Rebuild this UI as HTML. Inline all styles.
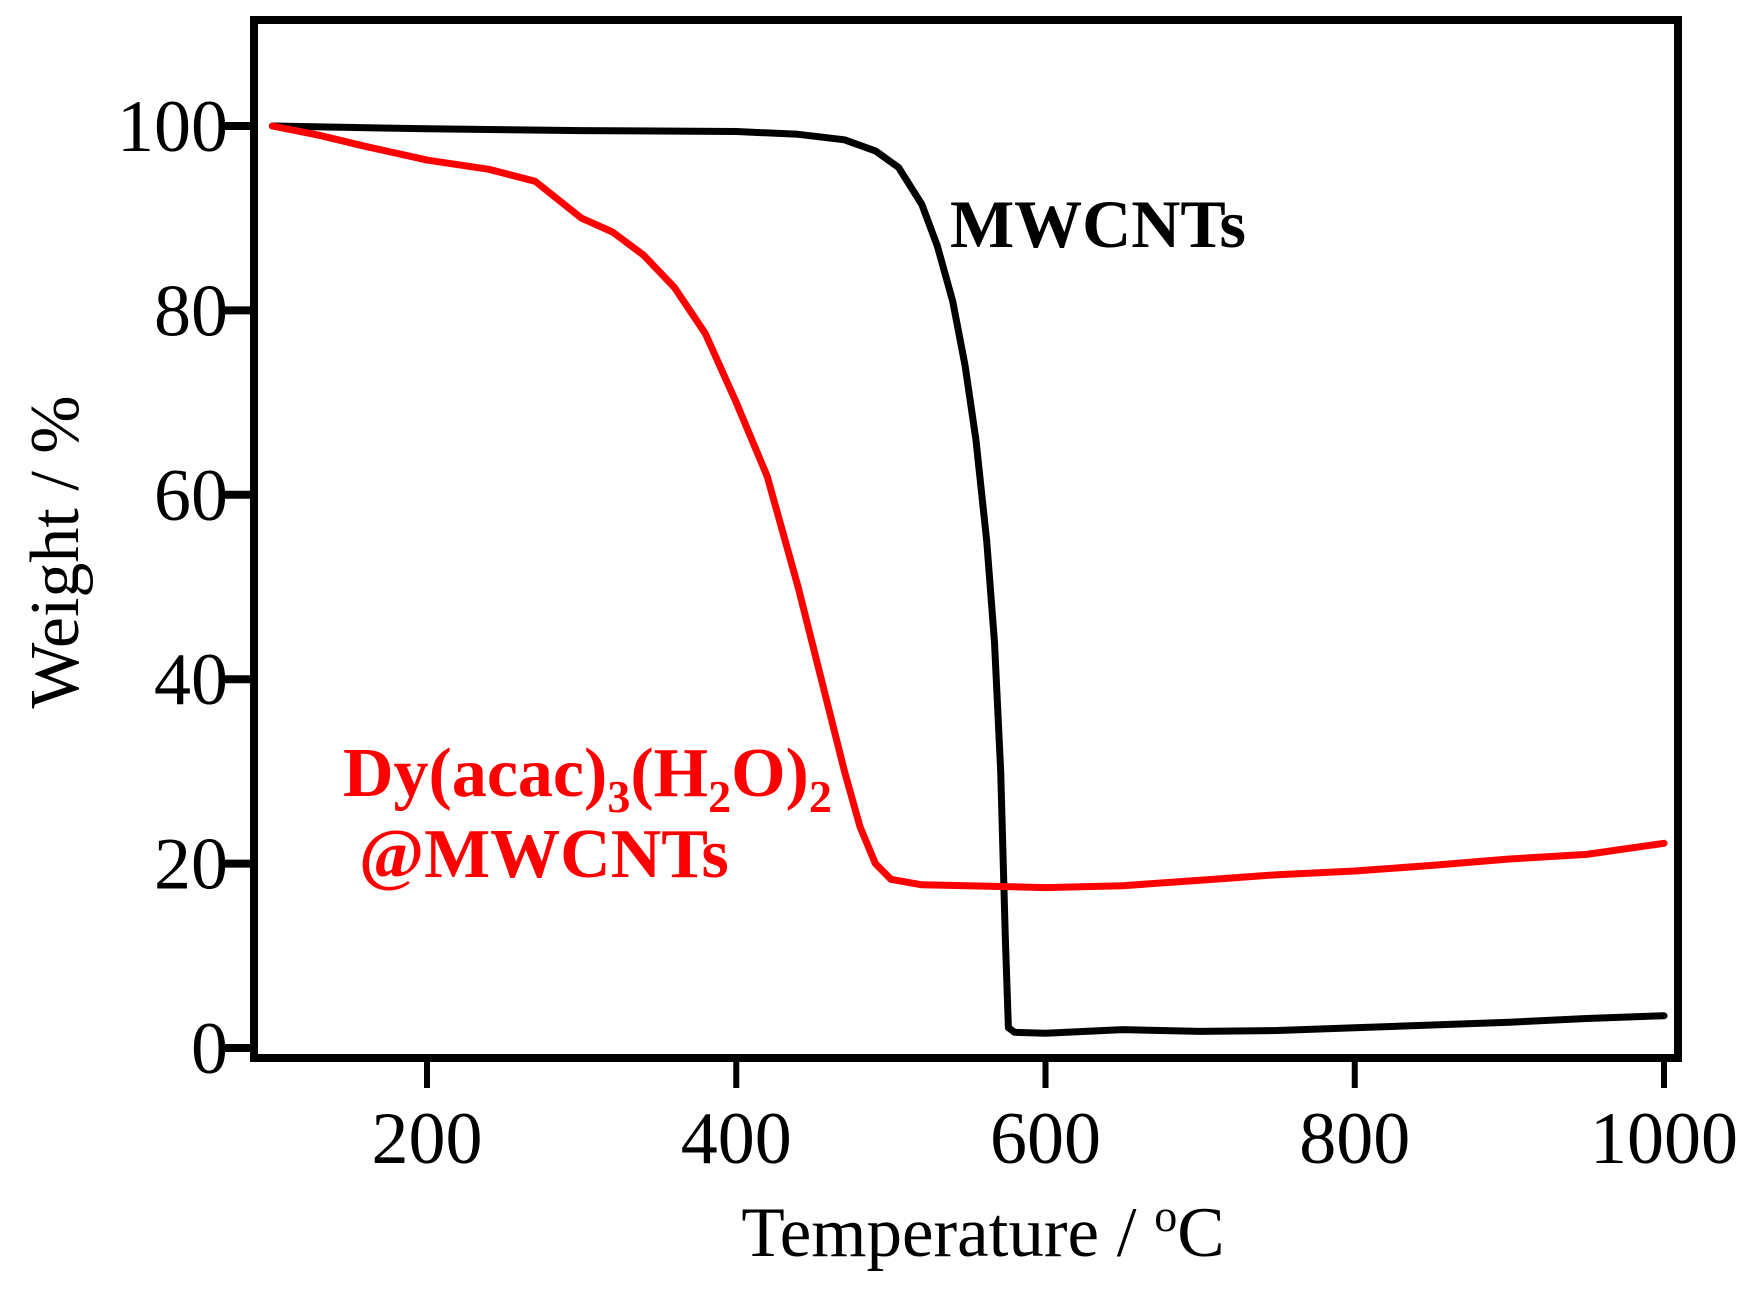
<!DOCTYPE html>
<html><head><meta charset="utf-8"><style>
body{margin:0;background:#fff;}
svg{display:block;}
text{font-family:"Liberation Serif",serif;}
</style></head><body>
<svg id="chart" width="1748" height="1295" viewBox="0 0 1748 1295">
<g id="plot"></g>
<text x="983" y="1256" font-size="71" text-anchor="middle">Temperature / <tspan font-size="46" dy="-25">o</tspan><tspan dy="25">C</tspan></text>
<text transform="translate(78,552) rotate(-90)" font-size="70" text-anchor="middle">Weight / %</text>
<text x="950" y="247" font-size="68" font-weight="bold">MWCNTs</text>
<text x="343" y="796" font-size="70" font-weight="bold" fill="#ff0000">Dy(acac)<tspan font-size="46" dy="16">3</tspan><tspan dy="-16">(H</tspan><tspan font-size="46" dy="16">2</tspan><tspan dy="-16">O)</tspan><tspan font-size="46" dy="16">2</tspan></text>
<text x="359" y="877" font-size="70" font-weight="bold" fill="#ff0000">@MWCNTs</text>
</svg>
<script>
const xTicks=[200,400,600,800,1000];
const yTicks=[0,20,40,60,80,100];
const mwT=[100,200,300,400,440,470,490,505,520,530,540,548,555,562,567,571,574,576,580,600,650,700,750,800,850,900,950,1000];
const mwW=[100,99.7,99.5,99.4,99.1,98.5,97.3,95.5,91.5,87,81,74,66,55,44,30,12,2.2,1.7,1.6,2.0,1.8,1.9,2.2,2.5,2.8,3.2,3.5];
const dyT=[100,130,160,200,240,270,285,300,320,340,360,380,400,420,440,455,470,480,490,500,520,550,600,650,700,750,800,850,900,950,1000];
const dyW=[100,99,97.8,96.3,95.3,94,92,90,88.5,86,82.5,77.5,70,62,50,40,30,24,20,18.3,17.7,17.6,17.4,17.6,18.2,18.8,19.2,19.8,20.5,21,22.2];
const NS='http://www.w3.org/2000/svg';
const L=254,R=1678,T=20,B=1058;
function sx(v){return 427+(v-200)*(1664-427)/800;}
function sy(v){return 1048-v*(1048-126)/100;}
const g=document.getElementById('plot');
function mk(tag,attrs,parent){const e=document.createElementNS(NS,tag);for(const k in attrs)e.setAttribute(k,attrs[k]);(parent||g).appendChild(e);return e;}
const frame=mk('rect',{x:L,y:T,width:R-L,height:B-T,fill:'none',stroke:'#000','stroke-width':8});


xTicks.forEach(v=>{
 const t=mk('line',{x1:sx(v),x2:sx(v),y1:B,y2:B+30,stroke:'#000','stroke-width':6});
 
 
 const l=mk('text',{x:sx(v),y:B+105,'font-size':74,'text-anchor':'middle'});l.textContent=v;
 
 
});
yTicks.forEach(v=>{
 const t=mk('line',{x1:L-30,x2:L,y1:sy(v),y2:sy(v),stroke:'#000','stroke-width':8});
 
 
 const l=mk('text',{x:L-26,y:sy(v)+25,'font-size':74,'text-anchor':'end'});l.textContent=v;
 
 
});
function line(xs,ys,color,name){
 const d=xs.map((x,i)=>(i?'L':'M')+sx(x).toFixed(1)+' '+sy(ys[i]).toFixed(1)).join(' ');
 const p=mk('path',{d:d,fill:'none',stroke:color,'stroke-width':7,'stroke-linejoin':'round','stroke-linecap':'round'});
 
 
}
line(mwT,mwW,'#000','mwcnts-line');
line(dyT,dyW,'#ff0000','dy-mwcnts-line');
</script>
</body></html>
